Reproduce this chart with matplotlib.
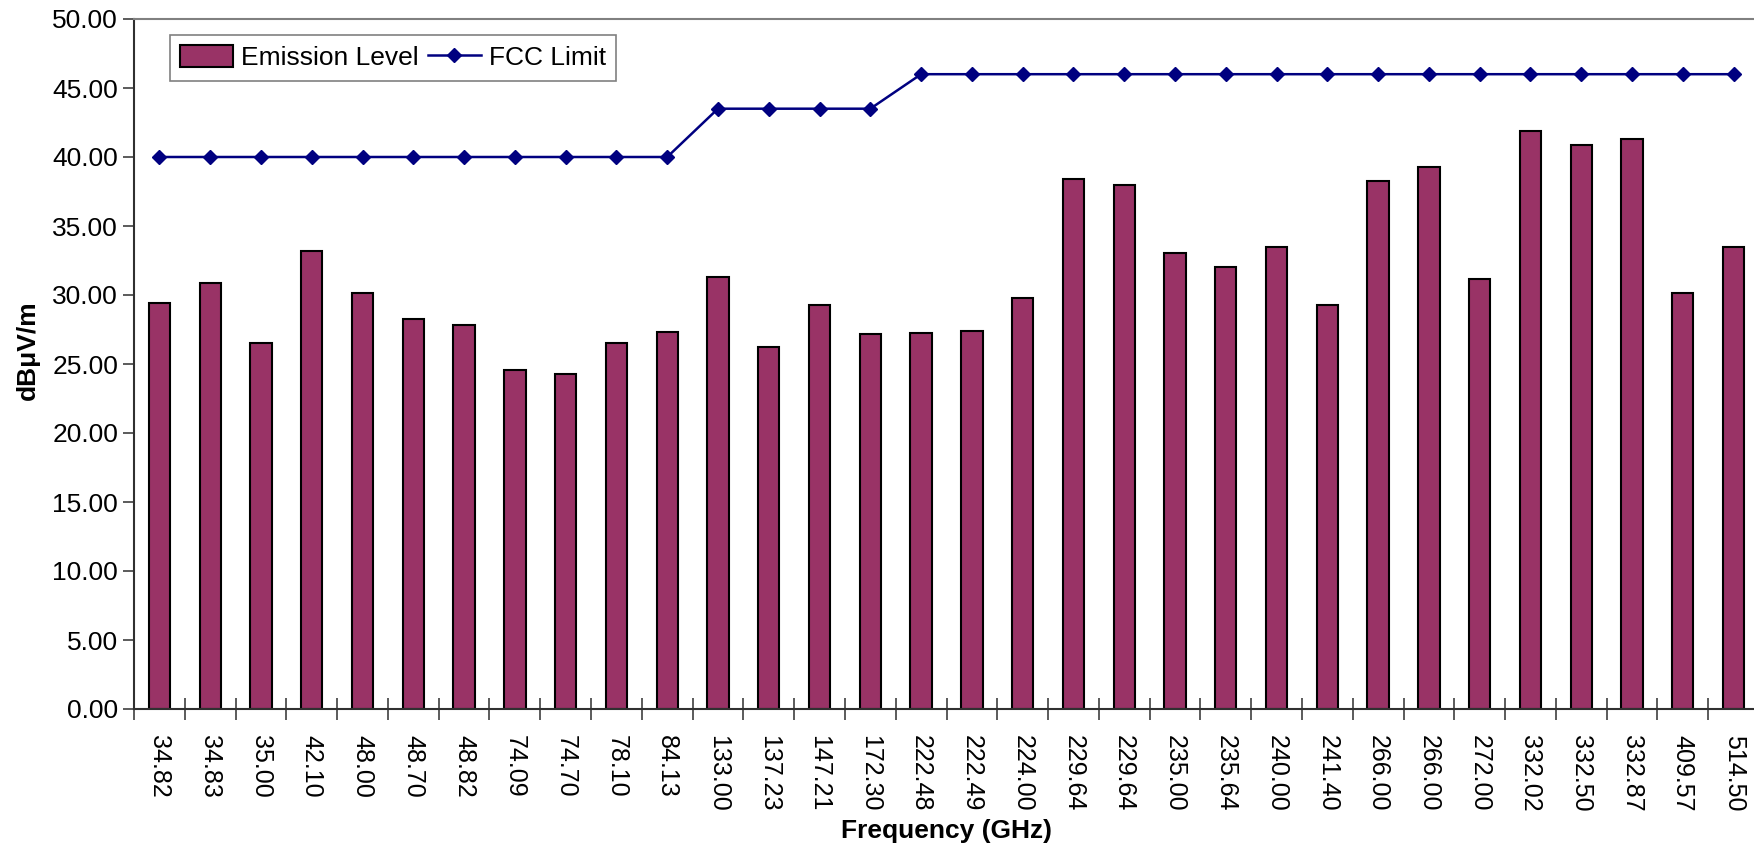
import matplotlib
matplotlib.use("Agg")
import matplotlib.pyplot as plt
import numpy as np

plt.rcParams['font.family'] = ['Liberation Sans', 'DejaVu Sans']

freqs = ["34.82", "34.83", "35.00", "42.10", "48.00", "48.70", "48.82", "74.09",
         "74.70", "78.10", "84.13", "133.00", "137.23", "147.21", "172.30", "222.48",
         "222.49", "224.00", "229.64", "229.64", "235.00", "235.64", "240.00", "241.40",
         "266.00", "266.00", "272.00", "332.02", "332.50", "332.87", "409.57", "514.50"]

emission = [29.4, 30.9, 26.5, 33.2, 30.15, 28.25, 27.85, 24.55,
            24.25, 26.5, 27.3, 31.3, 26.25, 29.3, 27.15, 27.25,
            27.4, 29.75, 38.4, 37.97, 33.05, 32.05, 33.5, 29.3,
            38.25, 39.3, 31.15, 41.9, 40.9, 41.3, 30.15, 33.5]

fcc_limit = [40.0] * 11 + [43.5] * 4 + [46.0] * 17

fig = plt.figure(figsize=(17.54, 8.49), dpi=100)
ax = fig.add_axes([134 / 1754, 140 / 849, 1625 / 1754, 690 / 849])

x = np.arange(len(freqs))
bars = ax.bar(x, emission, width=0.42, color="#993366", edgecolor="black", linewidth=1.5,
              label="Emission Level", zorder=2)
line, = ax.plot(x, fcc_limit, color="#000080", linewidth=1.8, marker="D", markersize=7,
                label="FCC Limit", zorder=3)

ax.set_xlim(-0.5, len(freqs) - 0.5)
ax.set_ylim(0, 50)
ax.set_yticks(np.arange(0, 50.1, 5))
ax.set_yticklabels(["%.2f" % v for v in np.arange(0, 50.1, 5)], fontsize=19)

ax.set_xticks(x)
ax.set_xticklabels(freqs, rotation=270, fontsize=18)
ax.tick_params(axis="x", which="major", length=0, pad=19)
ax.set_xticks(np.arange(-0.5, len(freqs), 1), minor=True)
ax.tick_params(axis="x", which="minor", direction="inout", length=16, width=1.2, color="#404040")
ax.tick_params(axis="y", direction="out", length=8, width=1.2, color="#404040")

for s in ["left", "bottom"]:
    ax.spines[s].set_color("#303030")
    ax.spines[s].set_linewidth(1.5)
ax.spines["top"].set_color("#808080")
ax.spines["top"].set_linewidth(1.5)
ax.spines["right"].set_visible(False)

ax.set_ylabel("dBμV/m", fontsize=19, fontweight="bold", va="center")
ax.yaxis.set_label_coords(-0.065, 0.52)
ax.set_xlabel("Frequency (GHz)", fontsize=19, fontweight="bold", va="center")
ax.xaxis.set_label_coords(0.5, -0.177)

leg = ax.legend([bars, line], ["Emission Level", "FCC Limit"],
                loc="upper left", bbox_to_anchor=(0.022, 0.977), borderaxespad=0,
                ncol=2, fontsize=19, frameon=True, fancybox=False, edgecolor="#808080",
                framealpha=1, handlelength=2.0, handleheight=0.9, handletextpad=0.3,
                columnspacing=0.35, borderpad=0.4)
leg.get_frame().set_linewidth(1.2)

fig.savefig("out.png", dpi=100)
